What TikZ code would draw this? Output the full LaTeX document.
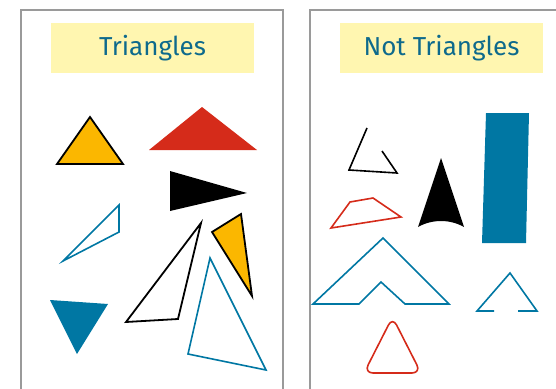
\documentclass[tikz,border=0pt]{standalone}
\usepackage{fontspec}
\setmainfont{Fira Sans}
\definecolor{panelgray}{HTML}{9A9A9A}
\definecolor{titlebg}{HTML}{FFF6B0}
\definecolor{titlefg}{HTML}{0E6A8C}
\definecolor{myblue}{HTML}{0077A3}
\definecolor{myred}{HTML}{D52B1A}
\definecolor{myorange}{HTML}{FBB700}
\tikzset{
  panel/.style={draw=panelgray, line width=2pt},
  titlebox/.style={fill=titlebg, text=titlefg, minimum height=50pt, inner sep=0pt, font=\fontsize{26}{26}\selectfont},
  outl/.style={line width=1.8pt, line join=miter},
  thin/.style={line width=1.6pt, line join=miter}
}
\begin{document}
\begin{tikzpicture}[x=1pt,y=-1pt]
\useasboundingbox (0,0) rectangle (556,388);
\begin{scope}
\clip (0,0) rectangle (556,388);
\draw[panel] (21,10) rectangle (283,400);
\draw[panel] (310,10) rectangle (600,400);
\end{scope}
\node[titlebox, minimum width=203pt] (t1) at (152.5,48) {Triangles};
\node[titlebox, minimum width=203pt] (t2) at (441.5,48) {Not Triangles};
% left panel
\draw[outl, fill=myorange, draw=black] (57,164) -- (90,117) -- (123,164) -- cycle;
\fill[myred] (149,150) -- (202,107) -- (257,150) -- cycle;
\fill[black] (170,171) -- (247,193) -- (170,211) -- cycle;
\draw[thin, draw=myblue] (63,261) -- (119,205) -- (119,232) -- cycle;
\draw[outl, draw=black] (126,322) -- (201,223) -- (178,319) -- cycle;
\draw[outl, fill=myorange, draw=black] (212,232) -- (241,214) -- (252,296) -- cycle;
\draw[thin, draw=myblue] (210,258) -- (188,354) -- (266,370) -- cycle;
\fill[myblue] (50,300) -- (108,304) -- (77,354) -- cycle;
% right panel
\draw[thin, draw=black] (367,128) -- (349,170) -- (397,173) -- (382,151);
\draw[thin, draw=myred] (331,228) -- (350,202) -- (373,198) -- (401,217) -- cycle;
\fill[black] (441,158) -- (418,227) .. controls (432,219) and (450,219) .. (464,227) -- cycle;
\fill[myblue] (486,113) -- (529,113) -- (526,243) -- (482,243) -- cycle;
\draw[thin, draw=myblue] (313,304) -- (383,238) -- (449,304) -- (405,304) -- (381,282) -- (359,304) -- cycle;
\draw[thin, draw=myblue] (494,311) -- (477,311) -- (510,273) -- (537,311) -- (518,311);
\draw[thin, draw=myred, rounded corners=9pt] (392.5,317) -- (421,373) -- (364,373) -- cycle;
\end{tikzpicture}
\end{document}
